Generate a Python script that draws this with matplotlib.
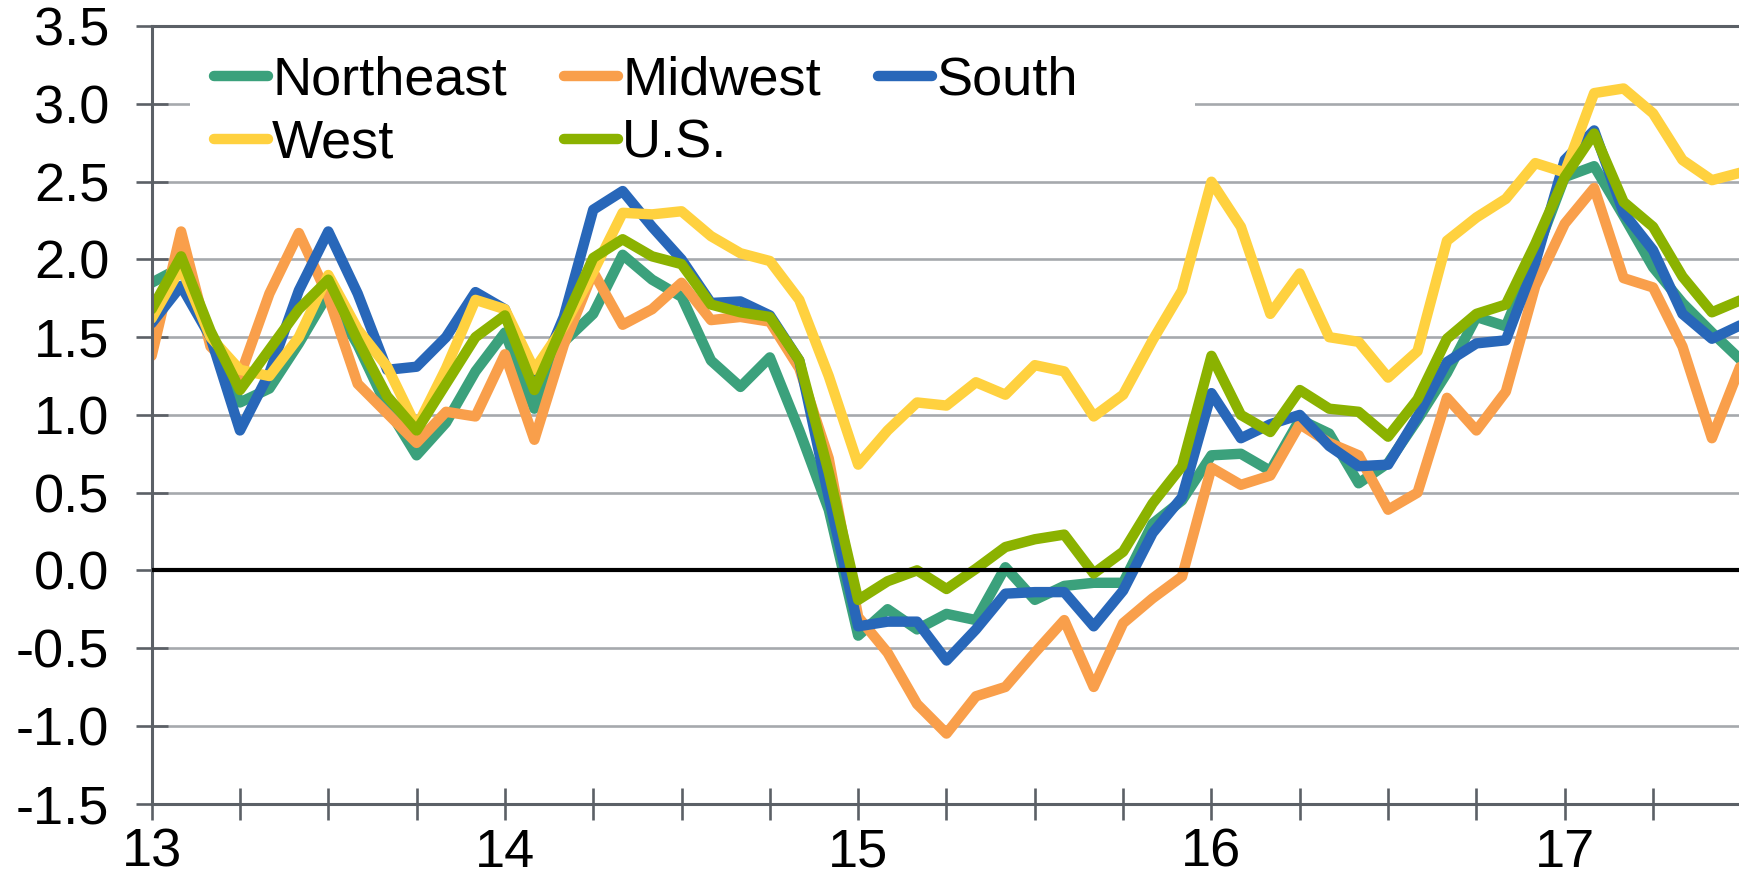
import numpy as np
import matplotlib.pyplot as plt
from matplotlib.patches import Rectangle

plt.rcParams['font.family'] = ['Liberation Sans', 'DejaVu Sans']

# monthly values, Jan 2013 onwards
northeast = [1.85, 1.95, 1.50, 1.08, 1.17, 1.46, 1.78, 1.45, 1.05, 0.74,
             0.95, 1.28, 1.53, 1.04, 1.47, 1.65, 2.03, 1.87, 1.76, 1.35,
             1.18, 1.37, 0.90, 0.39, -0.42, -0.25, -0.38, -0.28, -0.32, 0.02,
             -0.19, -0.10, -0.08, -0.08, 0.30, 0.45, 0.74, 0.75, 0.64, 0.97,
             0.88, 0.56, 0.69, 0.97, 1.27, 1.63, 1.57, 2.03, 2.53, 2.60,
             2.28, 1.95, 1.72, 1.53, 1.35]
midwest = [1.38, 2.18, 1.44, 1.25, 1.78, 2.17, 1.76, 1.20, 1.01, 0.82,
           1.02, 0.99, 1.39, 0.84, 1.45, 1.92, 1.58, 1.68, 1.85, 1.61,
           1.63, 1.60, 1.30, 0.72, -0.30, -0.53, -0.86, -1.05, -0.81, -0.75,
           -0.53, -0.32, -0.75, -0.34, -0.18, -0.04, 0.66, 0.55, 0.61, 0.94,
           0.82, 0.74, 0.39, 0.50, 1.11, 0.90, 1.15, 1.83, 2.23, 2.46,
           1.88, 1.82, 1.44, 0.85, 1.33]
south = [1.59, 1.83, 1.50, 0.90, 1.27, 1.80, 2.18, 1.78, 1.29, 1.31,
         1.50, 1.79, 1.68, 1.18, 1.63, 2.32, 2.44, 2.21, 2.00, 1.72,
         1.73, 1.64, 1.35, 0.47, -0.36, -0.33, -0.33, -0.58, -0.38, -0.15,
         -0.14, -0.14, -0.36, -0.13, 0.24, 0.47, 1.14, 0.85, 0.94, 1.00,
         0.80, 0.67, 0.68, 0.99, 1.34, 1.46, 1.48, 1.98, 2.64, 2.83,
         2.30, 2.06, 1.65, 1.49, 1.58]
west = [1.62, 1.95, 1.50, 1.29, 1.25, 1.50, 1.90, 1.55, 1.31, 0.92,
        1.30, 1.74, 1.68, 1.29, 1.57, 1.92, 2.30, 2.29, 2.31, 2.15,
        2.04, 1.99, 1.74, 1.25, 0.68, 0.90, 1.08, 1.06, 1.21, 1.13,
        1.32, 1.28, 0.99, 1.13, 1.48, 1.80, 2.50, 2.21, 1.65, 1.91,
        1.50, 1.47, 1.24, 1.41, 2.12, 2.27, 2.39, 2.62, 2.56, 3.07,
        3.10, 2.94, 2.64, 2.51, 2.56]
us = [1.68, 2.02, 1.54, 1.16, 1.42, 1.68, 1.87, 1.48, 1.12, 0.90,
      1.20, 1.50, 1.64, 1.16, 1.59, 2.01, 2.13, 2.02, 1.97, 1.71,
      1.66, 1.63, 1.35, 0.63, -0.19, -0.07, 0.00, -0.12, 0.01, 0.15,
      0.20, 0.23, -0.02, 0.12, 0.43, 0.67, 1.38, 1.00, 0.89, 1.16,
      1.04, 1.02, 0.86, 1.10, 1.49, 1.65, 1.71, 2.10, 2.53, 2.81,
      2.37, 2.21, 1.89, 1.66, 1.74]

series_names = ['Northeast', 'Midwest', 'South', 'West', 'U.S.']
series_colors = ['#3BA17C', '#F99F4B', '#2867B9', '#FFD13F', '#8BB200']
year_labels = ['13', '14', '15', '16', '17']

################################################################################
fig = plt.figure(figsize=(17.39, 8.94), dpi=100)
ax = fig.add_axes([0.0872, 0.1012, 0.9128, 0.8694])

months = np.arange(len(us))
lines = []
for vals, name, col in zip([northeast, midwest, south, west, us], series_names, series_colors):
    ln, = ax.plot(months, vals, color=col, lw=7.5, label=name,
                  solid_joinstyle='round', solid_capstyle='round', zorder=2)
    lines.append(ln)

ax.axhline(0, color='black', lw=3.0, zorder=3)

ax.set_xlim(0, 53.92)
ax.set_ylim(-1.5, 3.5)
ax.set_yticks(np.arange(-1.5, 3.51, 0.5))
ax.set_yticklabels(['%.1f' % v for v in np.arange(-1.5, 3.51, 0.5)])
ax.set_xticks(np.arange(0, 54, 3))
xl = []
for t in np.arange(0, 54, 3):
    xl.append(year_labels[t // 12] if t % 12 == 0 else '')
ax.set_xticklabels(xl)

ax.set_axisbelow(True)
ax.yaxis.grid(True, color='#A6A9AD', lw=1.9)
ax.spines['right'].set_visible(False)
for s in ['left', 'bottom', 'top']:
    ax.spines[s].set_color('#5B6066')
    ax.spines[s].set_linewidth(2.2)
ax.tick_params(axis='both', direction='inout', length=23, width=1.9,
               color='#5B6066', labelsize=39)
ax.tick_params(axis='y', pad=19)
ax.tick_params(axis='x', pad=6)

# white box behind the legend
ax.add_patch(Rectangle((0.024, 0.81), 0.633, 0.175, transform=ax.transAxes,
                       facecolor='white', edgecolor='none', zorder=1.5))

order = [0, 3, 1, 4, 2]
leg = ax.legend([lines[i] for i in order], [series_names[i] for i in order],
                ncol=3, loc='upper left', bbox_to_anchor=(0.039, 0.962),
                frameon=False, fontsize=39, handlelength=1.0, handletextpad=0.08,
                columnspacing=1.05, labelspacing=0.24, borderpad=0, borderaxespad=0)
for h in leg.legend_handles:
    h.set_linewidth(7.5)
    h.set_solid_capstyle('round')

fig.savefig('out.png', dpi=100)
